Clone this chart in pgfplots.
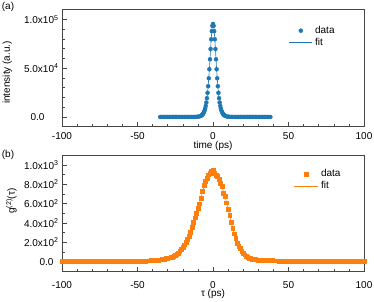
\documentclass[border=0pt]{standalone}
\usepackage{pgfplots}
\pgfplotsset{compat=1.18}
\usepackage{pgfplotstable}
\usepackage{fontspec}
\setmainfont{Liberation Sans}
\definecolor{cblue}{RGB}{31,119,180}
\definecolor{corange}{RGB}{255,127,14}
\definecolor{axgray}{RGB}{70,70,70}

\pgfplotstableread[row sep=\\]{
t v\\
-35 0\\ -34 0\\ -33 0\\ -32 0\\ -31 0\\ -30 0\\ -29 0\\ -28 0\\ -27 0\\ -26 0\\
-25 0\\ -24 0\\ -23 0\\ -22 0\\ -21 0\\ -20 0\\ -19 0\\ -18 0\\ -17 0\\ -16 0\\
-15 0\\ -14 16\\ -13 33\\ -12 68\\ -11 140\\ -10 287\\ -9 589\\
-8.0 1201\\ -7.6 1599\\ -7.2 2127\\ -6.8 2825\\ -6.4 3748\\ -6.0 4964\\ -5.6 6562\\
-5.2 8648\\ -4.8 11357\\ -4.4 14840\\ -4.0 19264\\ -3.6 24797\\ -3.2 31581\\
-2.8 39670\\ -2.4 48977\\ -2.0 59195\\ -1.6 69735\\ -1.2 79700\\ -0.8 88010\\
-0.4 93550\\ 0 95500\\ 0.4 93550\\ 0.8 88010\\ 1.2 79700\\ 1.6 69735\\ 2.0 59195\\
2.4 48977\\ 2.8 39670\\ 3.2 31581\\ 3.6 24797\\ 4.0 19264\\ 4.4 14840\\ 4.8 11357\\
5.2 8648\\ 5.6 6562\\ 6.0 4964\\ 6.4 3748\\ 6.8 2825\\ 7.2 2127\\ 7.6 1599\\ 8.0 1201\\
9 589\\ 10 287\\ 11 140\\ 12 68\\ 13 33\\ 14 16\\ 15 0\\ 16 0\\ 17 0\\ 18 0\\ 19 0\\
20 0\\ 21 0\\ 22 0\\ 23 0\\ 24 0\\ 25 0\\ 26 0\\ 27 0\\ 28 0\\ 29 0\\ 30 0\\ 31 0\\
32 0\\ 33 0\\ 34 0\\ 35 0\\ 36 0\\ 37 0\\ 38 0\\
}\tabA

\pgfplotstableread[row sep=\\]{
t v\\
-100 2\\ -99 4\\ -98 1\\ -97 3\\ -96 5\\ -95 2\\ -94 3\\ -93 1\\ -92 4\\ -91 2\\
-90 3\\ -89 5\\ -88 2\\ -87 1\\ -86 4\\ -85 3\\ -84 2\\ -83 5\\ -82 3\\ -81 4\\
-80 2\\ -79 5\\ -78 3\\ -77 4\\ -76 6\\ -75 3\\ -74 5\\ -73 4\\ -72 6\\ -71 3\\
-70 5\\ -69 4\\ -68 6\\ -67 5\\ -66 3\\ -65 6\\ -64 5\\ -63 7\\ -62 4\\ -61 6\\
-60 5\\ -59 7\\ -58 6\\ -57 5\\ -56 8\\ -55 6\\ -54 7\\ -53 5\\ -52 8\\ -51 7\\
-50 6\\ -49 8\\ -48 7\\ -47 9\\ -46 8\\ -45 7\\ -44 9\\ -43 10\\ -42 9\\ -41 11\\
-40 12\\ -39 13\\ -38 14\\ -37 16\\ -36 17\\ -35 19\\ -34 22\\ -33 26\\ -32 29\\ -31 33\\
-30 37\\ -29 41\\ -28 45\\ -27 49\\ -26 55\\ -25 64\\ -24 78\\ -23 90\\ -22 105\\ -21 125\\
-20 148\\ -19 175\\ -18 200\\ -17 228\\ -16 262\\ -15 305\\ -14 355\\ -13 410\\ -12 455\\ -11 505\\
-10 555\\ -9 600\\ -8 655\\ -7 725\\ -6 790\\ -5 830\\ -4 865\\ -3 900\\ -2 912\\ -1 935\\
0 952\\ 1 912\\ 2 898\\ 3 882\\ 4 852\\ 5 808\\ 6 778\\ 7 712\\ 8 675\\ 9 610\\
10 545\\ 11 480\\ 12 408\\ 13 344\\ 14 288\\ 15 240\\ 16 192\\ 17 160\\ 18 135\\ 19 112\\
20 90\\ 21 72\\ 22 56\\ 23 45\\ 24 37\\ 25 32\\ 26 28\\ 27 25\\ 28 22\\ 29 20\\
30 18\\ 31 17\\ 32 16\\ 33 15\\ 34 14\\ 35 13\\ 36 13\\ 37 12\\ 38 11\\ 39 11\\
40 10\\ 41 10\\ 42 9\\ 43 9\\ 44 8\\ 45 8\\ 46 7\\ 47 8\\ 48 6\\ 49 7\\
50 6\\ 51 5\\ 52 7\\ 53 6\\ 54 4\\ 55 6\\ 56 5\\ 57 7\\ 58 4\\ 59 5\\
60 6\\ 61 4\\ 62 5\\ 63 3\\ 64 6\\ 65 4\\ 66 5\\ 67 3\\ 68 5\\ 69 4\\
70 6\\ 71 3\\ 72 4\\ 73 5\\ 74 3\\ 75 4\\ 76 2\\ 77 5\\ 78 3\\ 79 4\\
80 2\\ 81 4\\ 82 3\\ 83 5\\ 84 2\\ 85 3\\ 86 4\\ 87 2\\ 88 3\\ 89 5\\
90 2\\ 91 3\\ 92 4\\ 93 2\\ 94 3\\ 95 1\\ 96 4\\ 97 2\\ 98 3\\ 99 2\\ 100 3\\
}\tabB

\pgfplotstableread[row sep=\\]{
t v\\
-100 3\\ -90 3\\ -80 3\\ -70 4\\ -60 5\\ -50 6\\ -45 7\\ -40 11\\ -36 16\\ -32 27\\
-30 36\\ -28 45\\ -26 56\\ -24 76\\ -22 104\\ -20 145\\ -18 200\\ -16 262\\ -14 352\\
-12 455\\ -10 552\\ -8 662\\ -6 775\\ -4 860\\ -2 915\\ 0 935\\ 2 905\\ 4 850\\
6 770\\ 8 670\\ 10 550\\ 12 415\\ 14 290\\ 16 195\\ 18 132\\ 20 90\\ 22 58\\ 24 38\\
26 28\\ 28 22\\ 30 18\\ 35 13\\ 40 10\\ 50 6\\ 60 5\\ 70 4\\ 80 4\\ 90 3\\ 100 3\\
}\fitB

\pgfplotsset{mystyle/.style={
  scale only axis, width=302pt,
  xmin=-100, xmax=100,
  axis line style={axgray, line width=0.6pt},
  tick align=inside, xtick pos=left, ytick pos=left,
  major tick length=4.5pt, minor tick length=2.5pt,
  every tick/.style={axgray, line width=0.6pt},
  xtick={-100,-50,0,50,100}, xticklabels={-100,-50,0,50,100},
  minor x tick num=4,
  scaled ticks=false,
  tick label style={font=\fontsize{10}{12}\selectfont},
  label style={font=\fontsize{10}{12}\selectfont},
  legend cell align=left,
  legend style={draw=none, fill=none, inner sep=0pt, outer sep=0pt,
    row sep=0pt, column sep=1pt,
    nodes={inner sep=1.5pt, text height=7pt, text depth=2pt},
    font=\fontsize{10}{12}\selectfont},
},
markA/.style={legend image code/.code={\path[draw=none] (0pt,0pt) -- (23pt,0pt); \draw[##1] plot coordinates {(11.5pt,0pt)};}},
lineA/.style={legend image code/.code={\draw[##1] (0pt,0pt) -- (23pt,0pt);}},
markB/.style={legend image code/.code={\path[draw=none] (0pt,0pt) -- (24pt,0pt); \draw[##1] plot coordinates {(12pt,0pt)};}},
lineB/.style={legend image code/.code={\draw[##1] (0pt,0pt) -- (24pt,0pt);}},
}

\begin{document}
\begin{tikzpicture}
\useasboundingbox (0,0) rectangle (374pt,301pt);
\begin{axis}[mystyle, at={(62pt,174.3pt)}, anchor=south west, height=117.4pt,
  ymin=-10000, ymax=110500, ytick={0,50000,100000},
  yticklabels={0.0\hspace*{14pt}, 5.0x10\textsuperscript{4}, 1.0x10\textsuperscript{5}},
  minor y tick num=4,
  xticklabel style={yshift=-2pt},
  xlabel={time (ps)}, ylabel={intensity (a.u.)},
  xlabel style={at={(axis description cs:0.5,-0.160)}, anchor=center},
  ylabel style={at={(axis description cs:-0.154,0.462)}, anchor=south},
  legend style={at={(axis description cs:0.7517,0.869)}, anchor=north west},
]
\addplot[cblue, line width=0.6pt, no marks, forget plot] table {\tabA};
\addplot[cblue, only marks, mark=*, mark size=2pt, mark options={draw=none, fill=cblue}, markA] table {\tabA};
\addlegendentry{data}
\addlegendimage{cblue, line width=0.6pt, no marks, lineA}
\addlegendentry{fit}
\end{axis}

\begin{axis}[mystyle, at={(62pt,30pt)}, anchor=south west, height=116pt,
  ymin=-97, ymax=1103, ytick={0,200,400,600,800,1000},
  yticklabels={0.0\hspace*{5pt}, 2.0x10\textsuperscript{2}, 4.0x10\textsuperscript{2}, 6.0x10\textsuperscript{2}, 8.0x10\textsuperscript{2}, 1.0x10\textsuperscript{3}},
  minor y tick num=1,
  xticklabel style={yshift=-6.5pt},
  xlabel={τ (ps)}, ylabel={g\textsuperscript{(2)}(τ)},
  xlabel style={at={(axis description cs:0.5,-0.198)}, anchor=center},
  ylabel style={at={(axis description cs:-0.138,0.603)}, anchor=south},
  legend style={at={(axis description cs:0.768,0.888)}, anchor=north west},
]
\addplot[corange, line width=0.6pt, no marks, forget plot] table {\fitB};
\addplot[corange, only marks, mark=square*, mark size=1.9pt, mark options={draw=none, fill=corange}, markB] table {\tabB};
\addlegendentry{data}
\addlegendimage{corange, line width=0.6pt, no marks, lineB}
\addlegendentry{fit}
\end{axis}

\node[anchor=west, inner sep=0pt, font=\fontsize{10}{12}\selectfont] at (1.7pt,294pt) {(a)};
\node[anchor=west, inner sep=0pt, font=\fontsize{10}{12}\selectfont] at (1.7pt,146pt) {(b)};
\end{tikzpicture}
\end{document}
